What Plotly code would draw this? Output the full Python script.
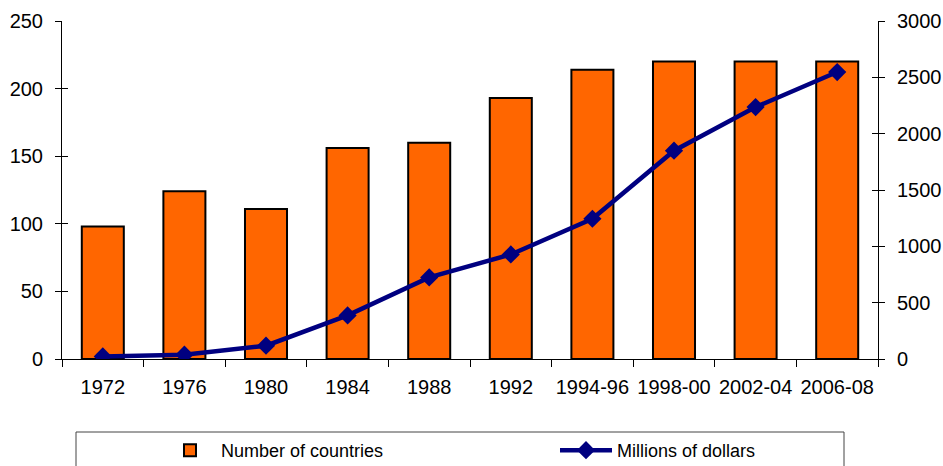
import plotly.graph_objects as go

# Periods on the category axis
periods = ["1972", "1976", "1980", "1984", "1988", "1992",
           "1994-96", "1998-00", "2002-04", "2006-08"]

# Number of countries (left axis)
countries = [98, 124, 111, 156, 160, 193, 214, 220, 220, 220]

# Millions of dollars (right axis)
millions = [23, 38, 118, 387, 724, 928, 1245, 1849, 2236, 2547]

left_ticks = [0, 50, 100, 150, 200, 250]
right_ticks = [0, 500, 1000, 1500, 2000, 2500, 3000]

FONT = "Liberation Sans, Arial, sans-serif"
ORANGE = "#FF6600"
NAVY = "#000080"

fig = go.Figure()

fig.add_trace(go.Bar(
    x=periods, y=countries, name="Number of countries",
    marker=dict(color=ORANGE, line=dict(color="black", width=2)),
    yaxis="y", legend="legend",
))

fig.add_trace(go.Scatter(
    x=periods, y=millions, name="Millions of dollars",
    mode="lines+markers",
    line=dict(color=NAVY, width=4.5),
    marker=dict(symbol="diamond", size=14, color=NAVY),
    yaxis="y2", legend="legend2",
))

# Invisible helper traces so the tick-only overlay axes are drawn
fig.add_trace(go.Scatter(x=periods[:1], y=[0], yaxis="y3", mode="markers",
                         marker=dict(opacity=0), showlegend=False, hoverinfo="skip"))
fig.add_trace(go.Scatter(x=periods[:1], y=[0], yaxis="y4", mode="markers",
                         marker=dict(opacity=0), showlegend=False, hoverinfo="skip"))

axis_common = dict(showgrid=False, zeroline=False, showline=True,
                   linecolor="black", linewidth=1, tickcolor="black",
                   tickwidth=1, ticklen=6, automargin=False,
                   tickfont=dict(family=FONT, size=20, color="black"))

legend_common = dict(orientation="h", xanchor="left", y=-0.216, yanchor="top",
                     itemwidth=52,
                     font=dict(family=FONT, size=18, color="black"),
                     bgcolor="rgba(0,0,0,0)", borderwidth=0)

fig.update_layout(
    width=943, height=466,
    margin=dict(l=62, r=65, t=21, b=107, autoexpand=False),
    paper_bgcolor="white", plot_bgcolor="white",
    bargap=0.485,
    font=dict(family=FONT, color="black"),
    xaxis=dict(type="category", range=[-0.5, len(periods) - 0.5],
               showgrid=False, showline=True,
               linecolor="black", linewidth=1, automargin=False,
               ticks="outside", tickson="boundaries", ticklen=7,
               tickcolor="black", tickangle=0, ticklabelstandoff=10,
               tickfont=dict(family=FONT, size=20, color="black")),
    yaxis=dict(range=[0, 250], tickvals=left_ticks, ticks="outside",
               ticklabelstandoff=8, **axis_common),
    yaxis2=dict(range=[0, 3000], tickvals=right_ticks, ticks="outside",
                overlaying="y", side="right", anchor="x",
                ticklabelstandoff=8, **axis_common),
    yaxis3=dict(range=[0, 250], tickvals=left_ticks, ticks="inside",
                overlaying="y", side="left", anchor="x",
                showticklabels=False, **axis_common),
    yaxis4=dict(range=[0, 3000], tickvals=right_ticks, ticks="inside",
                overlaying="y", side="right", anchor="x",
                showticklabels=False, **axis_common),
    legend=dict(x=(159 - 62) / 816, **legend_common),
    legend2=dict(x=(555 - 62) / 816, **legend_common),
    shapes=[dict(type="rect", xref="paper", yref="paper",
                 x0=(76 - 62) / 816, x1=(844 - 62) / 816,
                 y0=(359 - 480) / 338, y1=(359 - 432) / 338,
                 line=dict(color="#444444", width=1), fillcolor="rgba(0,0,0,0)")],
)

fig.write_html("out.html")
